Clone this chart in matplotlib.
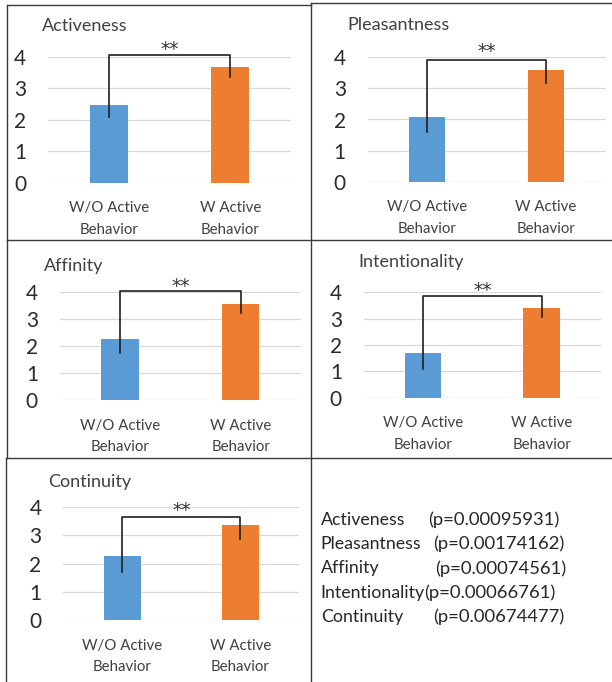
import matplotlib
matplotlib.use('Agg')
import matplotlib.pyplot as plt
from matplotlib.lines import Line2D

plt.rcParams['font.family'] = ['Lato', 'DejaVu Sans']

# ---------------- data ----------------
categories = ['W/O Active\nBehavior', 'W Active\nBehavior']
titles = ['Activeness', 'Pleasantness', 'Affinity', 'Intentionality', 'Continuity']
wo_values = [2.47, 2.09, 2.26, 1.69, 2.28]
w_values = [3.68, 3.58, 3.57, 3.40, 3.37]
bracket_left_low = [2.10, 1.59, 1.75, 1.08, 1.69]
bracket_top = [4.05, 3.91, 4.04, 3.85, 3.64]
bracket_right_low = [3.37, 3.16, 3.23, 3.07, 2.86]
star_y = [4.44, 4.39, 4.44, 4.30, 4.11]
sig_label = '**'
yticks = [0, 1, 2, 3, 4]
p_names = ['Activeness', 'Pleasantness', 'Affinity', 'Intentionality', 'Continuity']
p_values = ['0.00095931', '0.00174162', '0.00074561', '0.00066761', '0.00674477']

# ---------------- layout (pixels) ----------------
W, H = 612, 682
# (left, right, y of value 4, y of value 0)
axes_px = [(48, 291, 56.7, 182.7),
           (367.5, 605.5, 57.3, 181.7),
           (59.7, 301, 292, 400),
           (363.7, 601, 292.3, 397.7),
           (63.3, 299.3, 507.3, 620)]
title_px = [(41.7, 26), (347.7, 25), (44, 266), (358.3, 261.7), (48.3, 481.7)]
text_left = 320.7
p_col_x = [428.3, 432.7, 435, 424.3, 433.3]
row_y = [520, 544, 568.3, 592.7, 616.7]

BLUE = '#5B9BD5'
ORANGE = '#ED7D31'
TXT = '#404040'
FRAME = '#3a3a3a'

fig = plt.figure(figsize=(W / 100, H / 100), dpi=100)
fig.patch.set_facecolor('white')


def fx(x):
    return x / W


def fy(y):
    return 1 - y / H


xpos = [0, 1]
for i in range(5):
    l, r, t, b = axes_px[i]
    ax = fig.add_axes([fx(l), fy(b), (r - l) / W, (b - t) / H])
    ax.bar(xpos, [wo_values[i], w_values[i]], width=0.31,
           color=[BLUE, ORANGE], zorder=2)
    ax.set_xlim(-0.5, 1.5)
    ax.set_ylim(0, 4)
    ax.set_yticks(yticks)
    ax.set_yticklabels([str(v) for v in yticks], fontsize=15, color='#2b2b2b')
    for lbl in ax.get_yticklabels():
        lbl.set_horizontalalignment('center')
    ax.set_xticks(xpos)
    ax.set_xticklabels(categories, fontsize=10.8, color=TXT, linespacing=1.7)
    ax.tick_params(axis='y', length=0, pad=20)
    ax.tick_params(axis='x', length=0, pad=13.5)
    ax.grid(axis='y', color='#d9d9d9', lw=0.9, zorder=0)
    ax.set_axisbelow(True)
    for s in ax.spines.values():
        s.set_visible(False)
    ax.patch.set_alpha(0)
    ax.plot([0, 0, 1, 1],
            [bracket_left_low[i], bracket_top[i], bracket_top[i], bracket_right_low[i]],
            color='#1f1f1f', lw=1.2, clip_on=False, zorder=3)
    ax.annotate(sig_label, xy=(0.5, star_y[i]), xytext=(0, -8.5),
                textcoords='offset points', ha='center', va='baseline',
                fontsize=13.5, family='DejaVu Sans', color='#333333',
                annotation_clip=False)
    tx, ty = title_px[i]
    fig.text(fx(tx), fy(ty), titles[i], ha='left', va='center', fontsize=13, color=TXT)

for i in range(5):
    fig.text(fx(text_left), fy(row_y[i]), p_names[i], ha='left', va='center',
             fontsize=12.8, color='#262626')
    fig.text(fx(p_col_x[i]), fy(row_y[i]), '(p=' + p_values[i] + ')', ha='left',
             va='center', fontsize=13.3, color='#262626')

# frame lines
segments = [((7, 4.7), (311, 4.7)),
            ((311, 3), (612, 3)),
            ((7, 4.7), (7, 240)),
            ((311, 3), (311, 682)),
            ((7, 240), (612, 240)),
            ((7, 240), (7, 457.7)),
            ((6, 457.7), (612, 457.7)),
            ((6, 457.7), (6, 682))]
for (x1, y1), (x2, y2) in segments:
    fig.add_artist(Line2D([fx(x1), fx(x2)], [fy(y1), fy(y2)],
                          transform=fig.transFigure, color=FRAME, lw=1.0))

fig.savefig('out.png', dpi=100)
